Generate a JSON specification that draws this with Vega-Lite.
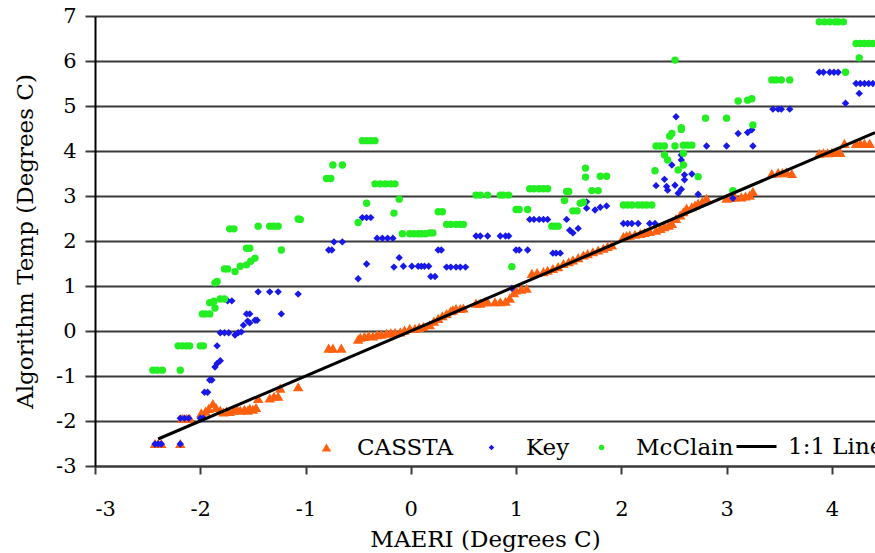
{
 "$schema": "https://vega.github.io/schema/vega-lite/v6.json",
 "width": 780, "height": 450,
 "autosize": "none",
 "padding": {"left": 95, "top": 16, "right": 0, "bottom": 87},
 "background": "white",
 "config": {"font": "DejaVu Serif", "view": {"stroke": null},
  "legend": {"title": null, "padding": 0, "orient": "none"}},
 "datasets": {
  "pts": [
{"s":"CASSTA","x":-2.43,"y":-2.5},{"s":"CASSTA","x":-2.4,"y":-2.5},{"s":"CASSTA","x":-2.37,"y":-2.5},{"s":"CASSTA","x":-2.19,"y":-2.5},
{"s":"CASSTA","x":-2.17,"y":-1.94},{"s":"CASSTA","x":-2.13,"y":-1.94},{"s":"CASSTA","x":-2.1,"y":-1.94},
{"s":"CASSTA","x":-1.99,"y":-1.82},{"s":"CASSTA","x":-1.95,"y":-1.78},{"s":"CASSTA","x":-1.92,"y":-1.72},{"s":"CASSTA","x":-1.88,"y":-1.61},{"s":"CASSTA","x":-1.85,"y":-1.7},{"s":"CASSTA","x":-1.81,"y":-1.76},{"s":"CASSTA","x":-1.78,"y":-1.8},{"s":"CASSTA","x":-1.75,"y":-1.78},{"s":"CASSTA","x":-1.72,"y":-1.79},{"s":"CASSTA","x":-1.68,"y":-1.76},{"s":"CASSTA","x":-1.65,"y":-1.74},{"s":"CASSTA","x":-1.62,"y":-1.76},{"s":"CASSTA","x":-1.58,"y":-1.74},{"s":"CASSTA","x":-1.55,"y":-1.76},{"s":"CASSTA","x":-1.53,"y":-1.72},{"s":"CASSTA","x":-1.5,"y":-1.74},{"s":"CASSTA","x":-1.47,"y":-1.7},{"s":"CASSTA","x":-1.45,"y":-1.5},{"s":"CASSTA","x":-1.34,"y":-1.49},{"s":"CASSTA","x":-1.3,"y":-1.45},{"s":"CASSTA","x":-1.26,"y":-1.45},{"s":"CASSTA","x":-1.24,"y":-1.27},{"s":"CASSTA","x":-1.07,"y":-1.24},
{"s":"CASSTA","x":-0.78,"y":-0.38},{"s":"CASSTA","x":-0.74,"y":-0.38},{"s":"CASSTA","x":-0.66,"y":-0.38},
{"s":"CASSTA","x":-0.5,"y":-0.18},{"s":"CASSTA","x":-0.48,"y":-0.14},{"s":"CASSTA","x":-0.44,"y":-0.12},{"s":"CASSTA","x":-0.4,"y":-0.1},{"s":"CASSTA","x":-0.36,"y":-0.11},{"s":"CASSTA","x":-0.32,"y":-0.08},{"s":"CASSTA","x":-0.28,"y":-0.07},{"s":"CASSTA","x":-0.23,"y":-0.05},{"s":"CASSTA","x":-0.19,"y":-0.04},{"s":"CASSTA","x":-0.15,"y":-0.03},{"s":"CASSTA","x":-0.1,"y":-0.02},{"s":"CASSTA","x":-0.06,"y":0.02},{"s":"CASSTA","x":-0.01,"y":0.06},{"s":"CASSTA","x":0.04,"y":0.06},{"s":"CASSTA","x":0.08,"y":0.08},{"s":"CASSTA","x":0.12,"y":0.1},{"s":"CASSTA","x":0.18,"y":0.14},{"s":"CASSTA","x":0.22,"y":0.22},{"s":"CASSTA","x":0.26,"y":0.28},{"s":"CASSTA","x":0.3,"y":0.34},{"s":"CASSTA","x":0.34,"y":0.39},{"s":"CASSTA","x":0.38,"y":0.45},{"s":"CASSTA","x":0.4,"y":0.47},{"s":"CASSTA","x":0.43,"y":0.5},{"s":"CASSTA","x":0.47,"y":0.5},{"s":"CASSTA","x":0.5,"y":0.51},
{"s":"CASSTA","x":0.62,"y":0.62},{"s":"CASSTA","x":0.66,"y":0.62},{"s":"CASSTA","x":0.7,"y":0.65},{"s":"CASSTA","x":0.73,"y":0.65},{"s":"CASSTA","x":0.8,"y":0.65},{"s":"CASSTA","x":0.85,"y":0.65},{"s":"CASSTA","x":0.9,"y":0.66},{"s":"CASSTA","x":0.94,"y":0.73},{"s":"CASSTA","x":0.98,"y":0.85},{"s":"CASSTA","x":1.0,"y":0.91},{"s":"CASSTA","x":1.05,"y":0.93},{"s":"CASSTA","x":1.1,"y":0.95},
{"s":"CASSTA","x":1.15,"y":1.28},{"s":"CASSTA","x":1.2,"y":1.3},{"s":"CASSTA","x":1.26,"y":1.32},{"s":"CASSTA","x":1.3,"y":1.35},{"s":"CASSTA","x":1.35,"y":1.39},{"s":"CASSTA","x":1.4,"y":1.43},{"s":"CASSTA","x":1.45,"y":1.5},{"s":"CASSTA","x":1.5,"y":1.54},{"s":"CASSTA","x":1.54,"y":1.58},{"s":"CASSTA","x":1.59,"y":1.63},{"s":"CASSTA","x":1.64,"y":1.69},{"s":"CASSTA","x":1.68,"y":1.72},{"s":"CASSTA","x":1.73,"y":1.76},{"s":"CASSTA","x":1.78,"y":1.8},{"s":"CASSTA","x":1.83,"y":1.84},{"s":"CASSTA","x":1.87,"y":1.88},{"s":"CASSTA","x":1.91,"y":1.91},
{"s":"CASSTA","x":2.02,"y":2.1},{"s":"CASSTA","x":2.05,"y":2.12},{"s":"CASSTA","x":2.08,"y":2.13},{"s":"CASSTA","x":2.13,"y":2.15},{"s":"CASSTA","x":2.18,"y":2.17},{"s":"CASSTA","x":2.22,"y":2.19},{"s":"CASSTA","x":2.27,"y":2.21},{"s":"CASSTA","x":2.33,"y":2.24},{"s":"CASSTA","x":2.37,"y":2.28},{"s":"CASSTA","x":2.41,"y":2.32},{"s":"CASSTA","x":2.45,"y":2.35},{"s":"CASSTA","x":2.48,"y":2.39},{"s":"CASSTA","x":2.52,"y":2.5},{"s":"CASSTA","x":2.56,"y":2.58},{"s":"CASSTA","x":2.59,"y":2.65},{"s":"CASSTA","x":2.62,"y":2.73},{"s":"CASSTA","x":2.67,"y":2.76},{"s":"CASSTA","x":2.7,"y":2.8},{"s":"CASSTA","x":2.73,"y":2.84},{"s":"CASSTA","x":2.77,"y":2.88},{"s":"CASSTA","x":2.81,"y":2.95},
{"s":"CASSTA","x":3.0,"y":2.95},{"s":"CASSTA","x":3.04,"y":2.97},{"s":"CASSTA","x":3.08,"y":2.98},{"s":"CASSTA","x":3.14,"y":2.98},{"s":"CASSTA","x":3.18,"y":3.0},{"s":"CASSTA","x":3.22,"y":3.02},{"s":"CASSTA","x":3.25,"y":3.1},
{"s":"CASSTA","x":3.43,"y":3.5},{"s":"CASSTA","x":3.49,"y":3.52},{"s":"CASSTA","x":3.53,"y":3.52},{"s":"CASSTA","x":3.57,"y":3.54},{"s":"CASSTA","x":3.62,"y":3.5},
{"s":"CASSTA","x":3.88,"y":3.95},{"s":"CASSTA","x":3.92,"y":3.96},{"s":"CASSTA","x":3.96,"y":3.96},{"s":"CASSTA","x":4.0,"y":3.97},{"s":"CASSTA","x":4.04,"y":3.98},{"s":"CASSTA","x":4.08,"y":3.97},{"s":"CASSTA","x":4.12,"y":4.17},{"s":"CASSTA","x":4.23,"y":4.17},{"s":"CASSTA","x":4.27,"y":4.17},{"s":"CASSTA","x":4.31,"y":4.17},{"s":"CASSTA","x":4.36,"y":4.17},
{"s":"Key","x":-2.43,"y":-2.51},{"s":"Key","x":-2.4,"y":-2.51},{"s":"Key","x":-2.37,"y":-2.51},{"s":"Key","x":-2.19,"y":-2.51},
{"s":"Key","x":-2.19,"y":-1.94},{"s":"Key","x":-2.15,"y":-1.94},{"s":"Key","x":-2.11,"y":-1.94},{"s":"Key","x":-2.0,"y":-1.94},{"s":"Key","x":-1.97,"y":-1.94},
{"s":"Key","x":-1.96,"y":-1.36},{"s":"Key","x":-1.93,"y":-1.36},{"s":"Key","x":-1.91,"y":-1.09},{"s":"Key","x":-1.89,"y":-1.09},
{"s":"Key","x":-1.86,"y":-0.8},{"s":"Key","x":-1.84,"y":-0.72},{"s":"Key","x":-1.81,"y":-0.66},{"s":"Key","x":-1.84,"y":-0.33},
{"s":"Key","x":-1.81,"y":-0.04},{"s":"Key","x":-1.77,"y":-0.04},{"s":"Key","x":-1.73,"y":-0.04},{"s":"Key","x":-1.67,"y":-0.09},{"s":"Key","x":-1.64,"y":-0.04},{"s":"Key","x":-1.61,"y":-0.02},
{"s":"Key","x":-1.59,"y":0.13},{"s":"Key","x":-1.55,"y":0.22},{"s":"Key","x":-1.53,"y":0.18},{"s":"Key","x":-1.48,"y":0.24},{"s":"Key","x":-1.46,"y":0.24},
{"s":"Key","x":-1.56,"y":0.38},{"s":"Key","x":-1.53,"y":0.38},{"s":"Key","x":-1.23,"y":0.38},
{"s":"Key","x":-1.74,"y":0.67},{"s":"Key","x":-1.7,"y":0.67},
{"s":"Key","x":-1.45,"y":0.87},{"s":"Key","x":-1.34,"y":0.87},{"s":"Key","x":-1.26,"y":0.87},{"s":"Key","x":-1.07,"y":0.82},
{"s":"Key","x":-0.78,"y":1.8},{"s":"Key","x":-0.75,"y":1.8},{"s":"Key","x":-0.73,"y":1.98},{"s":"Key","x":-0.65,"y":1.98},
{"s":"Key","x":-0.46,"y":2.52},{"s":"Key","x":-0.42,"y":2.52},{"s":"Key","x":-0.38,"y":2.52},
{"s":"Key","x":-0.42,"y":1.49},{"s":"Key","x":-0.5,"y":1.16},
{"s":"Key","x":-0.32,"y":2.06},{"s":"Key","x":-0.27,"y":2.06},{"s":"Key","x":-0.22,"y":2.06},{"s":"Key","x":-0.17,"y":2.06},
{"s":"Key","x":-0.11,"y":1.63},
{"s":"Key","x":-0.16,"y":1.42},{"s":"Key","x":-0.07,"y":1.44},{"s":"Key","x":0.01,"y":1.44},{"s":"Key","x":0.07,"y":1.44},{"s":"Key","x":0.1,"y":1.44},{"s":"Key","x":0.13,"y":1.44},{"s":"Key","x":0.17,"y":1.44},
{"s":"Key","x":0.26,"y":1.8},{"s":"Key","x":0.29,"y":1.8},{"s":"Key","x":0.19,"y":1.21},{"s":"Key","x":0.23,"y":1.21},
{"s":"Key","x":0.34,"y":1.42},{"s":"Key","x":0.38,"y":1.42},{"s":"Key","x":0.43,"y":1.42},{"s":"Key","x":0.47,"y":1.42},{"s":"Key","x":0.52,"y":1.42},
{"s":"Key","x":0.62,"y":2.11},{"s":"Key","x":0.66,"y":2.11},{"s":"Key","x":0.73,"y":2.11},{"s":"Key","x":0.85,"y":2.11},{"s":"Key","x":0.9,"y":2.11},{"s":"Key","x":0.93,"y":2.11},
{"s":"Key","x":0.96,"y":0.95},
{"s":"Key","x":1.0,"y":1.8},{"s":"Key","x":1.03,"y":1.8},{"s":"Key","x":1.11,"y":1.8},
{"s":"Key","x":1.13,"y":2.48},{"s":"Key","x":1.17,"y":2.48},{"s":"Key","x":1.22,"y":2.48},{"s":"Key","x":1.26,"y":2.48},{"s":"Key","x":1.3,"y":2.48},{"s":"Key","x":1.48,"y":2.48},
{"s":"Key","x":1.35,"y":1.73},{"s":"Key","x":1.38,"y":1.73},{"s":"Key","x":1.42,"y":1.73},
{"s":"Key","x":1.51,"y":2.24},{"s":"Key","x":1.54,"y":2.18},{"s":"Key","x":1.59,"y":2.28},
{"s":"Key","x":1.67,"y":2.87},{"s":"Key","x":1.67,"y":2.73},{"s":"Key","x":1.75,"y":2.69},{"s":"Key","x":1.8,"y":2.75},{"s":"Key","x":1.86,"y":2.78},
{"s":"Key","x":2.02,"y":2.39},{"s":"Key","x":2.06,"y":2.39},{"s":"Key","x":2.1,"y":2.39},{"s":"Key","x":2.16,"y":2.39},{"s":"Key","x":2.27,"y":2.39},{"s":"Key","x":2.32,"y":2.39},
{"s":"Key","x":2.33,"y":3.23},{"s":"Key","x":2.41,"y":3.37},{"s":"Key","x":2.43,"y":3.21},{"s":"Key","x":2.44,"y":3.13},{"s":"Key","x":2.51,"y":3.24},{"s":"Key","x":2.54,"y":3.06},{"s":"Key","x":2.57,"y":3.15},{"s":"Key","x":2.6,"y":3.36},{"s":"Key","x":2.6,"y":3.47},{"s":"Key","x":2.67,"y":3.49},{"s":"Key","x":2.48,"y":3.69},{"s":"Key","x":2.57,"y":3.91},{"s":"Key","x":2.57,"y":3.8},{"s":"Key","x":2.52,"y":4.76},{"s":"Key","x":2.73,"y":3.04},
{"s":"Key","x":2.81,"y":4.11},{"s":"Key","x":3.0,"y":4.11},{"s":"Key","x":3.25,"y":4.11},{"s":"Key","x":3.06,"y":2.95},
{"s":"Key","x":3.11,"y":4.39},{"s":"Key","x":3.2,"y":4.41},{"s":"Key","x":3.24,"y":4.47},
{"s":"Key","x":3.44,"y":4.93},{"s":"Key","x":3.49,"y":4.93},{"s":"Key","x":3.52,"y":4.93},{"s":"Key","x":3.6,"y":4.93},
{"s":"Key","x":3.88,"y":5.75},{"s":"Key","x":3.92,"y":5.75},{"s":"Key","x":3.98,"y":5.75},{"s":"Key","x":4.02,"y":5.75},{"s":"Key","x":4.06,"y":5.75},{"s":"Key","x":4.13,"y":5.06},
{"s":"Key","x":4.23,"y":5.5},{"s":"Key","x":4.27,"y":5.5},{"s":"Key","x":4.31,"y":5.5},{"s":"Key","x":4.35,"y":5.5},{"s":"Key","x":4.39,"y":5.5},{"s":"Key","x":4.26,"y":5.28},
{"s":"McClain","x":-2.45,"y":-0.87},{"s":"McClain","x":-2.41,"y":-0.87},{"s":"McClain","x":-2.36,"y":-0.87},{"s":"McClain","x":-2.19,"y":-0.87},
{"s":"McClain","x":-2.21,"y":-0.33},{"s":"McClain","x":-2.17,"y":-0.33},{"s":"McClain","x":-2.13,"y":-0.33},{"s":"McClain","x":-2.1,"y":-0.33},{"s":"McClain","x":-2.0,"y":-0.33},{"s":"McClain","x":-1.97,"y":-0.33},
{"s":"McClain","x":-1.98,"y":0.38},{"s":"McClain","x":-1.95,"y":0.38},{"s":"McClain","x":-1.91,"y":0.38},{"s":"McClain","x":-1.86,"y":0.51},{"s":"McClain","x":-1.91,"y":0.63},{"s":"McClain","x":-1.87,"y":0.66},{"s":"McClain","x":-1.81,"y":0.71},{"s":"McClain","x":-1.77,"y":0.71},
{"s":"McClain","x":-1.86,"y":1.07},{"s":"McClain","x":-1.84,"y":1.1},
{"s":"McClain","x":-1.77,"y":1.38},{"s":"McClain","x":-1.74,"y":1.38},{"s":"McClain","x":-1.67,"y":1.32},{"s":"McClain","x":-1.62,"y":1.44},{"s":"McClain","x":-1.56,"y":1.47},{"s":"McClain","x":-1.52,"y":1.55},{"s":"McClain","x":-1.48,"y":1.62},
{"s":"McClain","x":-1.56,"y":1.84},{"s":"McClain","x":-1.53,"y":1.84},{"s":"McClain","x":-1.23,"y":1.8},
{"s":"McClain","x":-1.72,"y":2.27},{"s":"McClain","x":-1.68,"y":2.27},{"s":"McClain","x":-1.45,"y":2.33},{"s":"McClain","x":-1.34,"y":2.33},{"s":"McClain","x":-1.3,"y":2.33},{"s":"McClain","x":-1.26,"y":2.33},
{"s":"McClain","x":-1.07,"y":2.49},
{"s":"McClain","x":-0.8,"y":3.39},{"s":"McClain","x":-0.76,"y":3.39},{"s":"McClain","x":-0.74,"y":3.69},{"s":"McClain","x":-0.65,"y":3.69},
{"s":"McClain","x":-0.46,"y":4.23},{"s":"McClain","x":-0.42,"y":4.23},{"s":"McClain","x":-0.38,"y":4.23},{"s":"McClain","x":-0.34,"y":4.23},
{"s":"McClain","x":-0.34,"y":3.27},{"s":"McClain","x":-0.29,"y":3.27},{"s":"McClain","x":-0.24,"y":3.27},{"s":"McClain","x":-0.19,"y":3.27},{"s":"McClain","x":-0.15,"y":3.27},
{"s":"McClain","x":-0.42,"y":2.84},{"s":"McClain","x":-0.11,"y":2.93},{"s":"McClain","x":-0.5,"y":2.41},{"s":"McClain","x":-0.16,"y":2.62},{"s":"McClain","x":-1.05,"y":2.48},
{"s":"McClain","x":0.26,"y":2.65},{"s":"McClain","x":0.3,"y":2.65},
{"s":"McClain","x":-0.08,"y":2.16},{"s":"McClain","x":-0.01,"y":2.16},{"s":"McClain","x":0.03,"y":2.16},{"s":"McClain","x":0.07,"y":2.16},{"s":"McClain","x":0.1,"y":2.16},{"s":"McClain","x":0.14,"y":2.16},{"s":"McClain","x":0.18,"y":2.18},{"s":"McClain","x":0.21,"y":2.18},
{"s":"McClain","x":0.34,"y":2.37},{"s":"McClain","x":0.38,"y":2.37},{"s":"McClain","x":0.43,"y":2.37},{"s":"McClain","x":0.47,"y":2.37},{"s":"McClain","x":0.5,"y":2.37},
{"s":"McClain","x":0.62,"y":3.02},{"s":"McClain","x":0.66,"y":3.02},{"s":"McClain","x":0.73,"y":3.02},{"s":"McClain","x":0.85,"y":3.02},{"s":"McClain","x":0.88,"y":3.02},{"s":"McClain","x":0.93,"y":3.02},
{"s":"McClain","x":0.96,"y":1.43},
{"s":"McClain","x":1.0,"y":2.7},{"s":"McClain","x":1.03,"y":2.7},{"s":"McClain","x":1.11,"y":2.7},
{"s":"McClain","x":1.13,"y":3.16},{"s":"McClain","x":1.17,"y":3.16},{"s":"McClain","x":1.22,"y":3.16},{"s":"McClain","x":1.26,"y":3.16},{"s":"McClain","x":1.3,"y":3.16},
{"s":"McClain","x":1.34,"y":2.33},{"s":"McClain","x":1.37,"y":2.33},{"s":"McClain","x":1.4,"y":2.33},
{"s":"McClain","x":1.46,"y":2.9},{"s":"McClain","x":1.48,"y":3.1},{"s":"McClain","x":1.5,"y":3.1},
{"s":"McClain","x":1.54,"y":2.67},{"s":"McClain","x":1.58,"y":2.67},{"s":"McClain","x":1.61,"y":2.84},{"s":"McClain","x":1.64,"y":2.86},
{"s":"McClain","x":1.66,"y":3.62},{"s":"McClain","x":1.66,"y":3.42},{"s":"McClain","x":1.8,"y":3.44},{"s":"McClain","x":1.86,"y":3.44},
{"s":"McClain","x":1.72,"y":3.12},{"s":"McClain","x":1.78,"y":3.12},
{"s":"McClain","x":2.02,"y":2.8},{"s":"McClain","x":2.06,"y":2.8},{"s":"McClain","x":2.1,"y":2.8},{"s":"McClain","x":2.16,"y":2.8},{"s":"McClain","x":2.2,"y":2.8},{"s":"McClain","x":2.24,"y":2.8},{"s":"McClain","x":2.29,"y":2.8},
{"s":"McClain","x":2.32,"y":3.56},{"s":"McClain","x":2.41,"y":3.91},{"s":"McClain","x":2.44,"y":3.8},{"s":"McClain","x":2.54,"y":3.58},{"s":"McClain","x":2.59,"y":3.69},{"s":"McClain","x":2.59,"y":3.95},{"s":"McClain","x":2.73,"y":3.43},
{"s":"McClain","x":2.33,"y":4.11},{"s":"McClain","x":2.37,"y":4.11},{"s":"McClain","x":2.41,"y":4.11},{"s":"McClain","x":2.51,"y":4.11},{"s":"McClain","x":2.59,"y":4.13},{"s":"McClain","x":2.63,"y":4.13},{"s":"McClain","x":2.67,"y":4.13},
{"s":"McClain","x":2.46,"y":4.33},{"s":"McClain","x":2.48,"y":4.39},{"s":"McClain","x":2.57,"y":4.48},{"s":"McClain","x":2.57,"y":4.52},
{"s":"McClain","x":2.51,"y":6.02},
{"s":"McClain","x":2.8,"y":4.73},{"s":"McClain","x":3.0,"y":4.73},{"s":"McClain","x":3.06,"y":3.12},
{"s":"McClain","x":3.11,"y":5.11},{"s":"McClain","x":3.2,"y":5.13},{"s":"McClain","x":3.24,"y":5.16},{"s":"McClain","x":3.25,"y":4.58},
{"s":"McClain","x":3.43,"y":5.58},{"s":"McClain","x":3.47,"y":5.58},{"s":"McClain","x":3.52,"y":5.58},{"s":"McClain","x":3.6,"y":5.58},
{"s":"McClain","x":3.88,"y":6.87},{"s":"McClain","x":3.93,"y":6.87},{"s":"McClain","x":3.98,"y":6.87},{"s":"McClain","x":4.03,"y":6.87},{"s":"McClain","x":4.06,"y":6.87},{"s":"McClain","x":4.11,"y":6.87},
{"s":"McClain","x":4.13,"y":5.75},
{"s":"McClain","x":4.23,"y":6.39},{"s":"McClain","x":4.27,"y":6.39},{"s":"McClain","x":4.31,"y":6.39},{"s":"McClain","x":4.35,"y":6.39},{"s":"McClain","x":4.39,"y":6.39},{"s":"McClain","x":4.26,"y":6.07}
  ],
  "line": [{"s": "1:1 Line", "x": -2.4, "y": -2.4}, {"s": "1:1 Line", "x": 4.41, "y": 4.41}]
 },
 "encoding": {
  "x": {"field": "x", "type": "quantitative",
   "scale": {"domain": [-3, 4.41], "nice": false, "zero": false},
   "axis": {"title": "MAERI (Degrees C)", "values": [-3, -2, -1, 0, 1, 2, 3, 4], "grid": false,
    "domain": true, "domainColor": "#3a3a3a", "domainWidth": 2,
    "ticks": true, "tickSize": 8, "tickColor": "#3a3a3a", "tickWidth": 2,
    "labelExpr": "datum.value + ''", "labelFont": "DejaVu Serif", "labelFontSize": 21, "labelColor": "black", "labelPadding": 24,
    "titleFont": "DejaVu Serif", "titleFontSize": 23, "titleFontWeight": "normal", "titleColor": "black", "titlePadding": 9}},
  "y": {"field": "y", "type": "quantitative",
   "scale": {"domain": [-3, 7], "nice": false, "zero": false},
   "axis": {"title": "Algorithm Temp (Degrees C)", "values": [-3, -2, -1, 0, 1, 2, 3, 4, 5, 6, 7], "grid": true,
    "gridColor": "#3a3a3a", "gridWidth": 2, "gridOpacity": 1,
    "domain": true, "domainColor": "black", "domainWidth": 2,
    "ticks": true, "tickSize": 10, "tickColor": "#3a3a3a", "tickWidth": 2,
    "labelExpr": "datum.value + ''", "labelFont": "DejaVu Serif", "labelFontSize": 21, "labelColor": "black", "labelPadding": 9,
    "titleFont": "DejaVu Serif", "titleFontSize": 23, "titleFontWeight": "normal", "titleColor": "black", "titlePadding": 18}}
 },
 "layer": [
  {"data": {"name": "pts"}, "transform": [{"filter": "datum.s === 'CASSTA'"}],
   "mark": {"type": "point", "filled": true, "opacity": 1, "shape": "triangle-up", "size": 110},
   "encoding": {"color": {"field": "s", "type": "nominal", "scale": {"domain": ["CASSTA"], "range": ["#FF6010"]},
     "legend": {"legendX": 220, "legendY": 420, "symbolType": "triangle-up", "symbolSize": 90, "labelOffset": 19,
      "labelFont": "DejaVu Serif", "labelFontSize": 23, "labelColor": "black"}}}},
  {"data": {"name": "pts"}, "transform": [{"filter": "datum.s === 'Key'"}],
   "mark": {"type": "point", "filled": true, "opacity": 1, "shape": "diamond", "size": 55},
   "encoding": {"color": {"field": "s", "type": "nominal", "scale": {"domain": ["Key"], "range": ["#1818E8"]},
     "legend": {"legendX": 385, "legendY": 420, "symbolType": "diamond", "symbolSize": 30, "labelOffset": 23,
      "labelFont": "DejaVu Serif", "labelFontSize": 23, "labelColor": "black"}}}},
  {"data": {"name": "pts"}, "transform": [{"filter": "datum.s === 'McClain'"}],
   "mark": {"type": "point", "filled": true, "opacity": 1, "shape": "circle", "size": 55},
   "encoding": {"color": {"field": "s", "type": "nominal", "scale": {"domain": ["McClain"], "range": ["#22EE22"]},
     "legend": {"legendX": 495, "legendY": 420, "symbolType": "circle", "symbolSize": 30, "labelOffset": 23,
      "labelFont": "DejaVu Serif", "labelFontSize": 23, "labelColor": "black"}}}},
  {"data": {"name": "line"},
   "mark": {"type": "line", "strokeWidth": 3},
   "encoding": {"color": {"field": "s", "type": "nominal", "scale": {"domain": ["1:1 Line"], "range": ["black"]},
     "legend": {"legendX": 640, "legendY": 409, "symbolType": "stroke", "symbolSize": 1600, "symbolStrokeWidth": 3, "labelOffset": 10,
      "labelFont": "DejaVu Serif", "labelFontSize": 23, "labelColor": "black"}}}}
 ],
 "resolve": {"scale": {"color": "independent"}}
}
